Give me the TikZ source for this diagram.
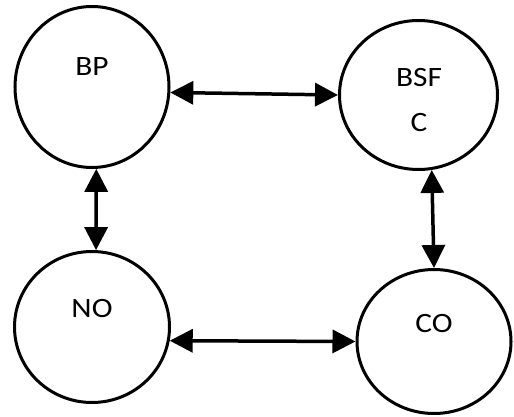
\documentclass[tikz,border=0pt]{standalone}
\usepackage{fontspec}
\setmainfont{Carlito}
\usetikzlibrary{arrows.meta,shapes.geometric}
\newcommand{\wide}[1]{\scalebox{1.12}[1]{#1}}
\begin{document}
\begin{tikzpicture}[x=1pt,y=-1pt,
  state/.style={ellipse,draw,line width=3pt,inner sep=0pt},
  lbl/.style={font=\fontsize{28}{33}\selectfont,inner sep=0pt,anchor=center},
  link/.style={line width=3.5pt,{Triangle[length=23pt,width=23pt]}-{Triangle[length=23pt,width=23pt]}}]
\useasboundingbox (0,0) rectangle (514,417);
\node[state,minimum width=154pt,minimum height=161pt] (bp) at (92,87) {};
\node[state,minimum width=158pt,minimum height=149pt] (bsfc) at (418.5,95) {};
\node[state,minimum width=155pt,minimum height=151pt] (no) at (92,327) {};
\node[state,minimum width=154pt,minimum height=144pt] (co) at (434,341.5) {};
\node[lbl] (tbp) at (92,67) {\wide{BP}};
\node[lbl] (tbsf) at (419,78) {\wide{BSF}};
\node[lbl] (tc) at (419,123) {\wide{C}};
\node[lbl] (tno) at (92,309) {\wide{NO}};
\node[lbl] (tco) at (434,324) {\wide{CO}};
\draw[link] (bp.-4) -- (bsfc.west);
\draw[link] (bp.-87) -- (no.87);
\draw[link] (no.-10) -- (co.west);
\draw[link] (bsfc.-80) -- (co.north);
\end{tikzpicture}
\end{document}
